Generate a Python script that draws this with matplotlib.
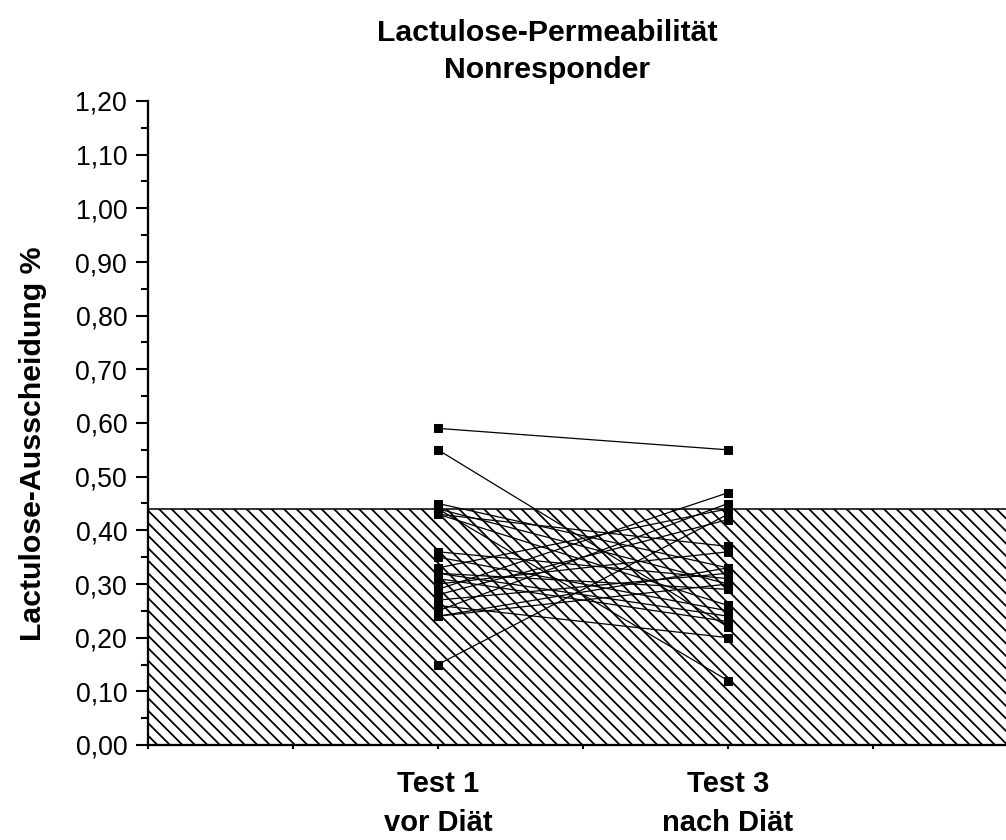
import numpy as np
import matplotlib
matplotlib.use("Agg")
import matplotlib.pyplot as plt

# Werte je Proband (Test 1 vor Diät, Test 3 nach Diät)
test1 = [0.59, 0.55, 0.45, 0.44, 0.44, 0.43, 0.43, 0.36, 0.35, 0.33, 0.32,
         0.31, 0.30, 0.29, 0.28, 0.27, 0.26, 0.25, 0.24, 0.24, 0.15, 0.32]
test3 = [0.55, 0.22, 0.33, 0.12, 0.30, 0.37, 0.26, 0.31, 0.25, 0.44, 0.29,
         0.23, 0.36, 0.47, 0.42, 0.32, 0.20, 0.45, 0.33, 0.30, 0.43, 0.24]
x_pos = [2, 4]
x_labels = ["", "", "Test 1\nvor Diät", "", "Test 3\nnach Diät", "", ""]
y_ticks = [0.0, 0.1, 0.2, 0.3, 0.4, 0.5, 0.6, 0.7, 0.8, 0.9, 1.0, 1.1, 1.2]
y_labels = ["0,00", "0,10", "0,20", "0,30", "0,40", "0,50", "0,60",
            "0,70", "0,80", "0,90", "1,00", "1,10", "1,20"]
normal_limit = 0.44

plt.rcParams["font.family"] = ["Liberation Sans", "DejaVu Sans"]
plt.rcParams["hatch.linewidth"] = 1.7

dpi = 75
fig = plt.figure(figsize=(1007 / dpi, 840 / dpi), dpi=dpi)
ax = fig.add_axes([148 / 1007, 95 / 840, 870 / 1007, 644 / 840])

# schraffierter Normalbereich
ax.axhspan(0, normal_limit, facecolor="white", edgecolor="black",
           hatch="\\\\", linewidth=1.5, zorder=1)

for a, b in zip(test1, test3):
    ax.plot(x_pos, [a, b], color="black", linewidth=1.2, marker="s",
            markersize=7, markerfacecolor="black", markeredgecolor="black",
            zorder=3)

ax.set_xlim(0, 6)
ax.set_ylim(0, 1.2)
ax.set_xticks(range(7))
ax.set_xticklabels(x_labels, fontsize=28, fontweight="bold", linespacing=1.5)
ax.set_yticks(y_ticks)
ax.set_yticklabels(y_labels, fontsize=25.5)
ax.set_yticks(np.arange(0.05, 1.2, 0.1), minor=True)

ax.spines["top"].set_visible(False)
ax.spines["right"].set_visible(False)
ax.spines["left"].set_linewidth(2.2)
ax.spines["bottom"].set_linewidth(2.2)
ax.tick_params(axis="y", which="major", length=12, width=2, pad=8)
ax.tick_params(axis="y", which="minor", length=7, width=2)
ax.tick_params(axis="x", which="major", length=4, width=2, pad=20)

ax.set_ylabel("Lactulose-Ausscheidung %", fontsize=29, fontweight="bold")
ax.yaxis.set_label_coords(-101 / 870, (745 - 444) / 644)

fig.text(547 / 1007, 1 - 41 / 840, "Lactulose-Permeabilität", ha="center",
         va="baseline", fontsize=29, fontweight="bold")
fig.text(547 / 1007, 1 - 78 / 840, "Nonresponder", ha="center",
         va="baseline", fontsize=29, fontweight="bold")

fig.savefig("out.png", dpi=dpi)
